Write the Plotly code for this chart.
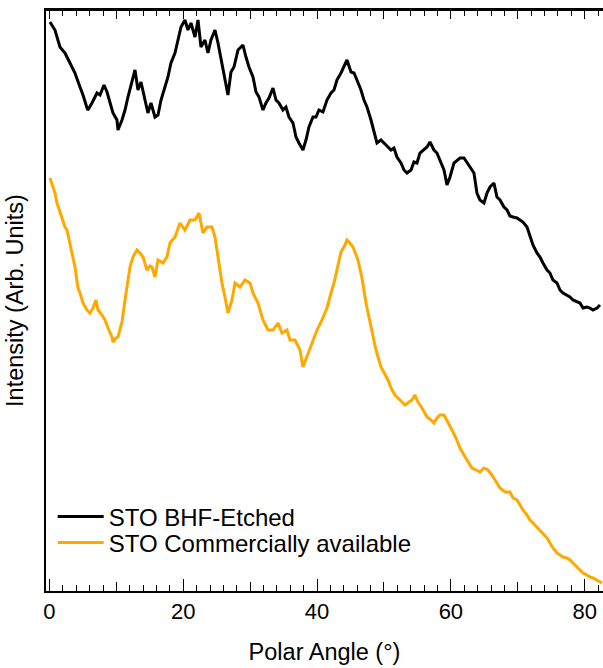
import plotly.graph_objects as go

# ---- data ----
angle_bhf = [0.07, 0.37, 0.82, 1.57, 2.32, 3.06, 3.81, 4.56, 5.01, 5.61,
             5.75, 6.35, 7.10, 7.55, 8.15, 8.60, 9.04, 9.49, 10.09, 10.24,
             10.84, 11.29, 11.73, 12.48, 12.78, 13.23, 13.68, 14.28, 14.72, 15.17,
             15.77, 16.22, 16.67, 17.26, 17.71, 18.16, 18.76, 19.21, 19.66, 20.25,
             20.70, 21.15, 21.75, 22.20, 22.65, 23.24, 23.69, 24.14, 24.74, 25.19,
             25.64, 26.23, 26.68, 27.13, 27.58, 28.18, 28.92, 29.37, 29.82, 30.42,
             30.87, 31.32, 31.91, 32.36, 32.81, 33.41, 33.86, 34.30, 34.90, 35.35,
             35.80, 36.40, 36.85, 37.29, 37.89, 38.34, 38.79, 39.39, 39.84, 40.28,
             40.88, 41.48, 42.08, 42.53, 42.97, 43.57, 44.02, 44.47, 45.07, 45.52,
             45.96, 46.56, 47.01, 47.46, 48.06, 48.51, 48.95, 49.55, 50.00, 50.45,
             51.05, 51.49, 51.94, 52.54, 52.99, 53.44, 54.04, 54.48, 54.93, 55.38,
             55.98, 56.43, 56.88, 57.47, 57.92, 58.37, 58.97, 59.42, 59.87, 60.46,
             60.91, 61.36, 61.96, 62.41, 62.86, 63.45, 63.90, 64.35, 64.95, 65.40,
             65.85, 66.44, 66.89, 67.34, 67.94, 68.39, 68.83, 69.28, 69.88, 70.33,
             70.78, 71.38, 71.82, 72.27, 72.87, 73.32, 73.77, 74.37, 74.81, 75.26,
             75.86, 76.31, 76.76, 77.35, 77.80, 78.25, 78.85, 79.30, 79.75, 80.34,
             80.79, 81.24, 81.84, 82.29]
intensity_bhf = [578, 575, 570, 553, 547, 537, 527, 513, 505, 492,
                 490, 497, 507, 505, 515, 508, 497, 487, 480, 470,
                 480, 490, 503, 522, 530, 510, 518, 500, 487, 497,
                 483, 485, 500, 513, 523, 537, 547, 560, 573, 580,
                 570, 577, 563, 580, 553, 560, 547, 560, 570, 557,
                 540, 520, 505, 528, 533, 550, 555, 543, 533, 523,
                 508, 503, 490, 497, 502, 512, 500, 497, 490, 493,
                 483, 477, 463, 457, 450, 460, 473, 483, 483, 490,
                 488, 500, 507, 510, 520, 527, 533, 540, 528, 527,
                 520, 510, 500, 493, 480, 467, 457, 460, 457, 453,
                 450, 452, 443, 437, 430, 427, 430, 438, 437, 447,
                 450, 453, 458, 450, 447, 440, 430, 415, 423, 437,
                 440, 442, 442, 437, 433, 427, 407, 400, 397, 407,
                 413, 417, 403, 400, 393, 390, 384, 383, 382, 380,
                 378, 373, 363, 355, 347, 343, 337, 330, 327, 320,
                 317, 310, 307, 305, 303, 300, 298, 297, 292, 293,
                 292, 290, 292, 295]

angle_com = [0.07, 0.52, 0.82, 1.12, 1.57, 2.02, 2.32, 2.62, 3.06, 3.51,
             3.81, 4.26, 4.56, 5.01, 5.61, 6.05, 6.50, 6.95, 7.25, 7.85,
             8.30, 8.74, 9.34, 9.49, 9.94, 10.24, 10.54, 10.84, 11.29, 11.73,
             12.03, 12.48, 13.08, 13.53, 13.98, 14.57, 15.02, 15.32, 15.77, 16.22,
             16.97, 17.56, 18.01, 18.76, 19.51, 20.25, 21.00, 21.75, 22.35, 22.95,
             23.54, 24.29, 24.74, 25.19, 25.78, 26.23, 26.68, 27.28, 27.73, 28.48,
             29.22, 29.97, 30.42, 31.17, 31.91, 32.66, 33.41, 34.16, 34.75, 35.50,
             35.95, 36.70, 37.44, 37.89, 38.49, 39.24, 39.99, 40.73, 41.48, 42.08,
             42.53, 42.97, 43.57, 44.17, 44.47, 44.77, 45.37, 46.11, 46.71, 47.31,
             47.76, 48.21, 48.80, 49.55, 50.15, 50.60, 51.20, 51.64, 52.39, 53.14,
             53.74, 54.19, 54.63, 55.08, 55.68, 56.43, 57.03, 57.47, 57.92, 58.37,
             58.97, 59.57, 60.16, 60.76, 61.36, 61.96, 62.56, 63.15, 63.75, 64.35,
             64.95, 65.55, 66.14, 66.74, 67.34, 68.09, 68.83, 69.28, 69.88, 70.33,
             70.78, 71.38, 71.82, 72.27, 72.87, 73.32, 73.77, 74.37, 74.81, 75.26,
             75.86, 76.31, 76.76, 77.35, 77.80, 78.25, 78.85, 79.30, 79.75, 80.34,
             80.79, 81.24, 81.84, 82.59]
intensity_com = [422, 413, 407, 397, 388, 378, 373, 370, 355, 342,
                 333, 312, 307, 297, 290, 287, 292, 300, 290, 285,
                 280, 272, 263, 258, 262, 263, 272, 278, 300, 323,
                 333, 343, 350, 347, 343, 330, 334, 333, 323, 340,
                 337, 343, 357, 363, 377, 370, 380, 380, 387, 367,
                 373, 373, 363, 343, 317, 303, 287, 300, 317, 313,
                 320, 317, 307, 297, 280, 270, 270, 277, 267, 270,
                 260, 260, 250, 233, 243, 257, 270, 280, 292, 307,
                 317, 330, 348, 355, 360, 358, 353, 340, 322, 297,
                 282, 267, 250, 233, 225, 220, 210, 205, 200, 195,
                 198, 200, 205, 198, 192, 183, 180, 177, 182, 185,
                 185, 178, 170, 162, 152, 145, 138, 132, 130, 128,
                 132, 130, 125, 118, 112, 108, 108, 102, 100, 95,
                 90, 85, 80, 77, 73, 70, 67, 62, 57, 52,
                 47, 45, 43, 42, 40, 37, 33, 30, 27, 25,
                 23, 22, 20, 17]

series_names = ["STO BHF-Etched", "STO Commercially available"]
series_colors = ["#000000", "#FFA800"]

major_ticks = [0, 20, 40, 60, 80]
mid_ticks = [0, 10, 20, 30, 40, 50, 60, 70, 80]
mid_text = ["0", "", "20", "", "40", "", "60", "", "80"]

FONT = "Arial, Liberation Sans, sans-serif"

fig = go.Figure()
fig.add_trace(go.Scatter(x=angle_bhf, y=intensity_bhf, mode="lines",
                         name=series_names[0],
                         line=dict(color=series_colors[0], width=3),
                         legend="legend"))
fig.add_trace(go.Scatter(x=angle_com, y=intensity_com, mode="lines",
                         name=series_names[1],
                         line=dict(color=series_colors[1], width=3),
                         legend="legend2"))
# invisible carrier so that the overlay axis with the long bottom ticks gets drawn
fig.add_trace(go.Scatter(x=angle_bhf, y=intensity_bhf, mode="lines",
                         xaxis="x2", yaxis="y", opacity=0,
                         line=dict(width=0), showlegend=False,
                         hoverinfo="skip"))

xr = [-0.52, 82.74]
leg_common = dict(xanchor="left", yanchor="middle", bgcolor="rgba(0,0,0,0)",
                  font=dict(size=24, family=FONT), itemwidth=46)
minor_ticks = dict(tick0=0, dtick=2, ticks="inside", ticklen=6,
                   tickwidth=1.3, tickcolor="black", showgrid=False)

fig.update_layout(
    width=603, height=668,
    margin=dict(l=46, r=0, t=10, b=77),
    paper_bgcolor="white", plot_bgcolor="white",
    font=dict(family=FONT, color="black"),
    showlegend=True,
    legend=dict(x=0.012, y=0.1274, **leg_common),
    legend2=dict(x=0.012, y=0.0826, **leg_common),
    xaxis=dict(range=xr, showline=True, linecolor="black", linewidth=1.5,
               mirror="allticks", showgrid=False, zeroline=False,
               ticks="inside", tickvals=mid_ticks, ticktext=mid_text,
               ticklen=9, tickwidth=1.3, tickcolor="black",
               minor=minor_ticks,
               tickfont=dict(size=22, family=FONT),
               ticklabelstandoff=0,
               title=dict(text="Polar Angle (°)", font=dict(size=23.5, family=FONT),
                          standoff=20),
               automargin=False),
    xaxis2=dict(range=xr, overlaying="x", anchor="y", side="bottom",
                showline=False, showgrid=False, zeroline=False,
                ticks="inside", tickvals=major_ticks, ticklen=12.5,
                tickwidth=1.3, tickcolor="black", showticklabels=False,
                automargin=False),
    yaxis=dict(range=[9, 590], showline=True, linecolor="black", linewidth=1.5,
               showgrid=False, zeroline=False, ticks="", showticklabels=False,
               title=dict(text="Intensity (Arb. Units)",
                          font=dict(size=23.5, family=FONT), standoff=14),
               automargin=False),
    shapes=[dict(type="line", xref="paper", yref="paper", x0=0, x1=1, y0=1, y1=1,
                 line=dict(color="black", width=2), layer="above")],
)

fig.write_html("out.html",
               config={"displayModeBar": False},
               post_script="document.body.style.margin='0';document.body.style.overflow='hidden';")
